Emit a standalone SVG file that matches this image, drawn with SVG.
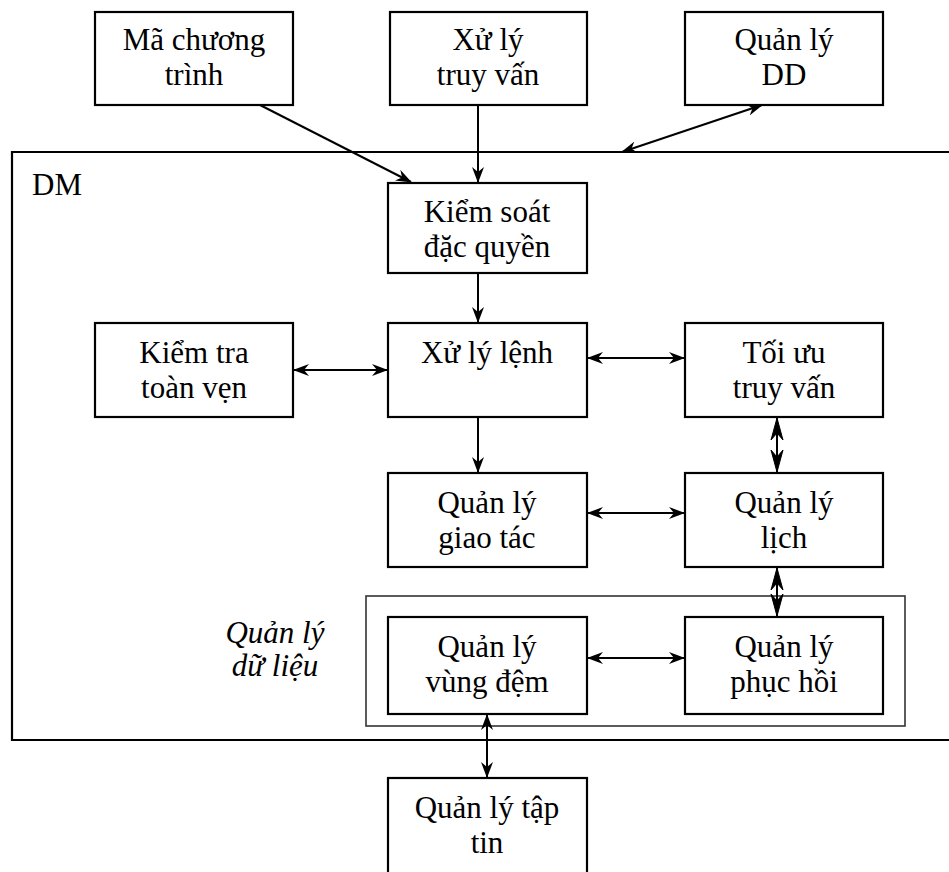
<svg xmlns="http://www.w3.org/2000/svg" width="949" height="872" viewBox="0 0 949 872">
  <style>
    .box { fill: #fff; stroke: #000; stroke-width: 2.2; }
    .frame { fill: none; stroke: #000; stroke-width: 2.2; }
    .frame2 { fill: none; stroke: #333; stroke-width: 1.6; }
    .lbl { font-family: "Liberation Serif", "Times New Roman", serif; font-size: 31px; fill: #000; text-anchor: middle; }
    .it { font-style: italic; }
    .cn { fill: none; stroke: #000; stroke-width: 2; }
  </style>
  <defs>
    <marker id="ah" viewBox="0 0 16 12" refX="15" refY="6" markerWidth="16" markerHeight="12" markerUnits="userSpaceOnUse" orient="auto-start-reverse">
      <path d="M0,0 L16,6 L0,12 L5,6 z" fill="#000"/>
    </marker>
    <!-- longer head used on the short vertical links of the right column -->
    <marker id="ahL" viewBox="0 0 24 14" refX="23" refY="7" markerWidth="24" markerHeight="14" markerUnits="userSpaceOnUse" orient="auto-start-reverse">
      <path d="M1,1 L23,7 L1,13 L8,7 z" fill="#000" stroke="#000" stroke-width="1"/>
    </marker>
  </defs>

  <!-- outer DM frame (open to the right) -->
  <g id="dm">
    <path class="frame" d="M949,152 L12,152 L12,740 L949,740"/>
    <text class="lbl" x="57" y="195">DM</text>
  </g>

  <!-- data management frame -->
  <g id="data-mgmt">
    <rect class="frame2" x="366" y="596" width="539" height="130"/>
    <text class="lbl it" x="275" y="643">Quản lý</text>
    <text class="lbl it" x="275" y="676">dữ liệu</text>
  </g>

  <g id="ma-chuong-trinh">
    <rect class="box" x="95" y="12" width="198" height="93"/>
    <text class="lbl" x="194" y="50">Mã chương</text>
    <text class="lbl" x="194" y="85">trình</text>
  </g>
  <g id="xu-ly-truy-van">
    <rect class="box" x="390" y="12" width="197" height="93"/>
    <text class="lbl" x="488" y="50">Xử lý</text>
    <text class="lbl" x="488" y="85">truy vấn</text>
  </g>
  <g id="quan-ly-dd">
    <rect class="box" x="685" y="12" width="198" height="93"/>
    <text class="lbl" x="784" y="50">Quản lý</text>
    <text class="lbl" x="784" y="85">DD</text>
  </g>

  <g id="kiem-soat">
    <rect class="box" x="388" y="183" width="199" height="90"/>
    <text class="lbl" x="487" y="222">Kiểm soát</text>
    <text class="lbl" x="487" y="257">đặc quyền</text>
  </g>
  <g id="kiem-tra">
    <rect class="box" x="95" y="323" width="198" height="94"/>
    <text class="lbl" x="194" y="363">Kiểm tra</text>
    <text class="lbl" x="194" y="398">toàn vẹn</text>
  </g>
  <g id="xu-ly-lenh">
    <rect class="box" x="388" y="323" width="199" height="94"/>
    <text class="lbl" x="487" y="363">Xử lý lệnh</text>
  </g>
  <g id="toi-uu">
    <rect class="box" x="685" y="323" width="198" height="94"/>
    <text class="lbl" x="784" y="363">Tối ưu</text>
    <text class="lbl" x="784" y="398">truy vấn</text>
  </g>
  <g id="giao-tac">
    <rect class="box" x="388" y="473" width="199" height="94"/>
    <text class="lbl" x="487" y="513">Quản lý</text>
    <text class="lbl" x="487" y="548">giao tác</text>
  </g>
  <g id="lich">
    <rect class="box" x="685" y="473" width="198" height="94"/>
    <text class="lbl" x="784" y="513">Quản lý</text>
    <text class="lbl" x="784" y="548">lịch</text>
  </g>
  <g id="vung-dem">
    <rect class="box" x="388" y="617" width="199" height="97"/>
    <text class="lbl" x="487" y="657">Quản lý</text>
    <text class="lbl" x="487" y="692">vùng đệm</text>
  </g>
  <g id="phuc-hoi">
    <rect class="box" x="685" y="617" width="198" height="97"/>
    <text class="lbl" x="784" y="657">Quản lý</text>
    <text class="lbl" x="784" y="692">phục hồi</text>
  </g>
  <g id="tap-tin">
    <rect class="box" x="388" y="778" width="199" height="100"/>
    <text class="lbl" x="487" y="818">Quản lý tập</text>
    <text class="lbl" x="487" y="853">tin</text>
  </g>

  <g id="connectors">
    <line class="cn" x1="260" y1="105" x2="411" y2="182" marker-end="url(#ah)"/>
    <line class="cn" x1="478" y1="105" x2="478" y2="182" marker-end="url(#ah)"/>
    <line class="cn" x1="762" y1="105" x2="622" y2="152" marker-start="url(#ah)" marker-end="url(#ah)"/>
    <line class="cn" x1="478" y1="273" x2="478" y2="322" marker-end="url(#ah)"/>
    <line class="cn" x1="294" y1="370" x2="387" y2="370" marker-start="url(#ah)" marker-end="url(#ah)"/>
    <line class="cn" x1="588" y1="358" x2="684" y2="358" marker-start="url(#ah)" marker-end="url(#ah)"/>
    <line class="cn" x1="478" y1="417" x2="478" y2="472" marker-end="url(#ah)"/>
    <line class="cn" x1="588" y1="513" x2="684" y2="513" marker-start="url(#ah)" marker-end="url(#ah)"/>
    <line class="cn" x1="777" y1="418" x2="777" y2="472" marker-start="url(#ahL)" marker-end="url(#ahL)"/>
    <line class="cn" x1="777" y1="568" x2="777" y2="616" marker-start="url(#ahL)" marker-end="url(#ahL)"/>
    <line class="cn" x1="588" y1="658" x2="684" y2="658" marker-start="url(#ah)" marker-end="url(#ah)"/>
    <line class="cn" x1="487" y1="715" x2="487" y2="777" marker-start="url(#ah)" marker-end="url(#ah)"/>
  </g>
</svg>
